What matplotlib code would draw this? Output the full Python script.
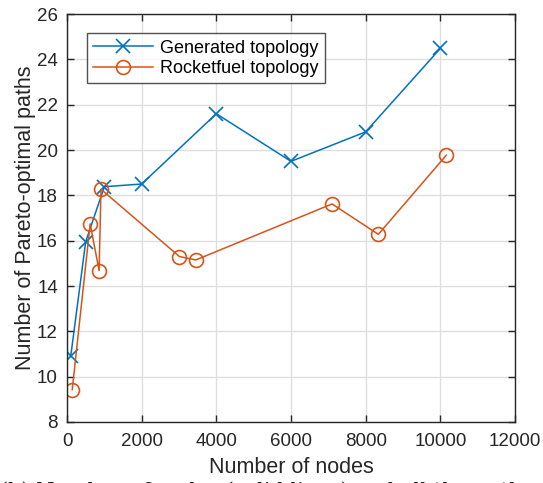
import numpy as np
import matplotlib
matplotlib.use('Agg')
import matplotlib.pyplot as plt

plt.rcParams['font.family'] = ['Liberation Sans', 'DejaVu Sans']

# Generated topology
gen_nodes = [100, 500, 1000, 2000, 4000, 6000, 8000, 10000]
gen_paths = [10.9, 15.95, 18.38, 18.5, 21.6, 19.5, 20.8, 24.48]

# Rocketfuel topology
rf_nodes = [140, 620, 860, 910, 3010, 3450, 7100, 8340, 10160]
rf_paths = [9.43, 16.74, 14.68, 18.27, 15.3, 15.15, 17.62, 16.28, 19.77]

BLUE = '#0072BD'
ORANGE = '#D95319'

fig = plt.figure(figsize=(5.43, 4.83), dpi=100)
ax = fig.add_axes([0.1234, 0.1263, 0.8250, 0.8447])

ax.plot(gen_nodes, gen_paths, color=BLUE, lw=1.1, marker='x', ms=10,
        mew=1.2, label='Generated topology')
ax.plot(rf_nodes, rf_paths, color=ORANGE, lw=1.1, marker='o', ms=10,
        mfc='none', mew=1.2, label='Rocketfuel topology')

ax.set_xlim(0, 12000)
ax.set_ylim(8, 26)
ax.set_xticks(np.arange(0, 12001, 2000))
ax.set_yticks(np.arange(8, 27, 2))
ax.grid(True, color='#dfdfdf', lw=1)
ax.set_axisbelow(True)
ax.tick_params(direction='in', top=True, right=True, labelsize=13.5,
               length=5, width=1, colors='#262626')
ax.tick_params(axis='x', pad=8)
ax.tick_params(axis='y', pad=6.5)
for s in ax.spines.values():
    s.set_color('#262626')
    s.set_linewidth(1)

ax.set_xlabel('Number of nodes', fontsize=15.5, color='#262626', labelpad=5)
ax.set_ylabel('Number of Pareto-optimal paths', fontsize=15.5, color='#262626',
              labelpad=1)

leg = ax.legend(loc='upper left', bbox_to_anchor=(0.045, 0.953), fontsize=13,
                frameon=True, fancybox=False, edgecolor='#262626',
                handlelength=3.3, borderpad=0.35, labelspacing=0.2,
                handletextpad=0.4, borderaxespad=0)
leg.get_frame().set_linewidth(1)

# caption line, cut off at the lower edge
fig.text(0.0, -0.038, '(b) Number of nodes (solid lines) and all the paths',
         fontsize=15, family='DejaVu Serif', color='#222222', va='bottom')

fig.savefig('out.png', dpi=100)
